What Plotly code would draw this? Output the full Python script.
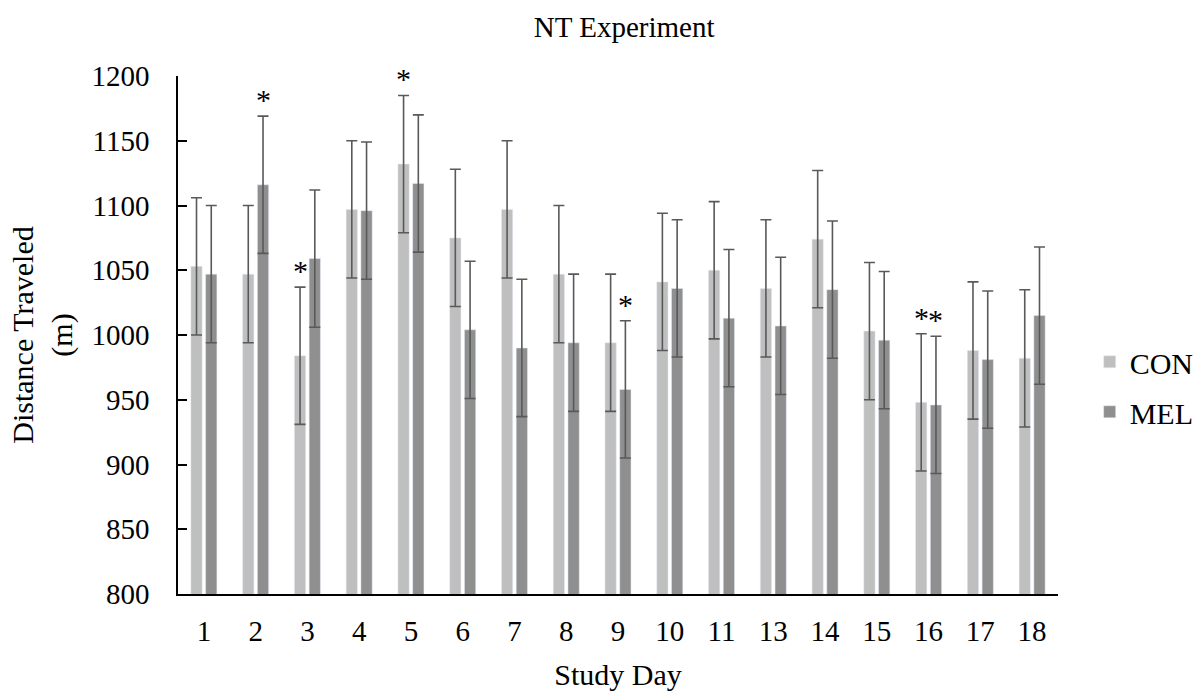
import plotly.graph_objects as go

days = ["1", "2", "3", "4", "5", "6", "7", "8", "9", "10", "11", "13", "14", "15", "16", "17", "18"]
con = [1053, 1047, 984, 1097, 1132, 1075, 1097, 1047, 994, 1041, 1050, 1036, 1074, 1003, 948, 988, 982]
con_err = [53, 53, 53, 53, 53, 53, 53, 53, 53, 53, 53, 53, 53, 53, 53, 53, 53]
mel = [1047, 1116, 1059, 1096, 1117, 1004, 990, 994, 958, 1036, 1013, 1007, 1035, 996, 946, 981, 1015]
mel_err = [53, 53, 53, 53, 53, 53, 53, 53, 53, 53, 53, 53, 53, 53, 53, 53, 53]
# significance markers: (day, series)
stars = [("2", "MEL"), ("3", "CON"), ("5", "CON"), ("9", "MEL"), ("16", "CON"), ("16", "MEL")]

FONT = "Liberation Serif, Times New Roman, serif"
ERR_COLOR = "#595959"

fig = go.Figure()
fig.add_trace(go.Bar(
    x=days, y=con, name="CON", marker_color="#BFBFBF", legendgroup="a",
    error_y=dict(type="data", array=con_err, visible=True, color=ERR_COLOR, thickness=1.6, width=5.5),
))
fig.add_trace(go.Bar(
    x=days, y=mel, name="MEL", marker_color="#8F8F8F", legendgroup="b",
    error_y=dict(type="data", array=mel_err, visible=True, color=ERR_COLOR, thickness=1.6, width=5.5),
))

annotations = []
for day, series in stars:
    i = days.index(day)
    if series == "CON":
        top = con[i] + con_err[i]
        xs = -7.4
    else:
        top = mel[i] + mel_err[i]
        xs = 7.4
    annotations.append(dict(
        x=i, y=top, xref="x", yref="y", text="*", showarrow=False,
        xshift=xs, yshift=-2, yanchor="bottom",
        font=dict(family=FONT, size=30, color="black"),
    ))

fig.update_layout(
    width=1201, height=698,
    margin=dict(l=178, r=143, t=76, b=104, autoexpand=False),
    paper_bgcolor="white", plot_bgcolor="white",
    barmode="group", bargap=0.43, bargroupgap=0.236,
    font=dict(family=FONT, size=29, color="black"),
    title=dict(text="NT Experiment", x=0.507, xanchor="center", xref="paper",
               y=0.962, yanchor="middle",
               font=dict(family=FONT, size=29, color="black")),
    legend=dict(x=1.036, y=0.40, xanchor="left", yanchor="middle", tracegroupgap=8,
                font=dict(family=FONT, size=30, color="black"), itemwidth=30),
    annotations=annotations,
    xaxis=dict(
        type="category", showline=True, linecolor="black", linewidth=1.5,
        ticks="", ticklabelstandoff=10, automargin=False,
        tickfont=dict(family=FONT, size=29),
        title=dict(text="Study Day", font=dict(family=FONT, size=30), standoff=18),
        showgrid=False, zeroline=False,
    ),
    yaxis=dict(
        range=[800, 1200], dtick=50, showline=True, linecolor="black", linewidth=1.5,
        ticks="inside", ticklen=9, tickwidth=1.5, tickcolor="black",
        ticklabelstandoff=21, automargin=False,
        tickfont=dict(family=FONT, size=29),
        title=dict(text="Distance Traveled<br>(m)", font=dict(family=FONT, size=30), standoff=10),
        showgrid=False, zeroline=False,
    ),
)

fig.write_html("out.html")
